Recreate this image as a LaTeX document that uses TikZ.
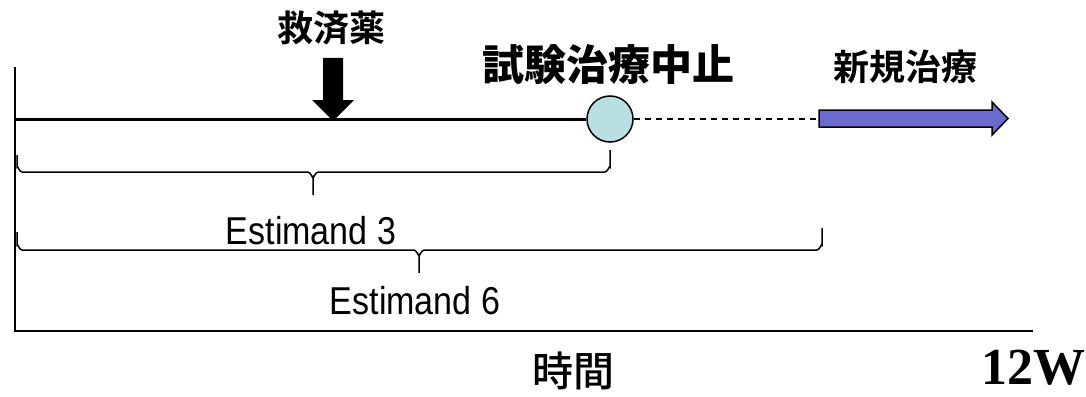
\documentclass[tikz,border=0pt]{standalone}
\usepackage{fontspec}
\setmainfont{Liberation Sans}
\newfontfamily\cjk{Noto Sans CJK JP Medium}
\newfontfamily\cjkb{Noto Sans CJK JP Bold}
\newfontfamily\cjkblack{Noto Sans CJK JP Black}
\newfontfamily\serifb{Liberation Serif Bold}
\definecolor{circfill}{HTML}{B9DFE3}
\definecolor{arrblue}{HTML}{6B6BCF}
\begin{document}
\begin{tikzpicture}[x=1pt,y=-1pt,
  axis/.style={line width=2pt,black},
  bracel/.style={line width=1.5pt,black},
  jlabel/.style={inner sep=0pt,font=\cjkb\fontsize{36}{36}\selectfont},
  elabel/.style={inner sep=0pt,xscale=0.92,yscale=1.05,font=\fontsize{37}{37}\selectfont}]
\useasboundingbox (0,0) rectangle (1086,396);
% axes
\coordinate (top) at (15,67);
\coordinate (org) at (15,331);
\coordinate (xend) at (1033,331);
\draw[axis] (top) -- (org) -- (xend);
% circle and timeline
\node[circle,draw,line width=1.5pt,fill=circfill,minimum size=46pt,inner sep=0pt] (stop) at (610,119) {};
\coordinate (tl) at (15,119);
\draw[line width=3pt] (tl) -- (stop.west);
% new treatment arrow
\coordinate (newtx) at (819,119);
\draw[line width=1.5pt,dash pattern=on 6pt off 5pt] (stop.east) -- (newtx);
\filldraw[fill=arrblue,draw=black,line width=1.5pt]
  (819,110) -- (992,110) -- (992,102) -- (1008,118.5) -- (992,135) -- (992,127) -- (819,127) -- cycle;
% rescue arrow
\fill[black] (323,58) -- (343,58) -- (343,100) -- (354,100) -- (333,121) -- (312,100) -- (323,100) -- cycle;
% brace 1
\draw[bracel] (17,155) -- (17,167) to[out=90,in=180] (22,172) -- (308,172) to[out=0,in=270] (313,177) -- (313,195);
\draw[bracel] (313,177) to[out=270,in=180] (318,172) -- (605,172) to[out=0,in=90] (610,167) -- (610,150);
% brace 2
\draw[bracel] (17,232) -- (17,245) to[out=90,in=180] (22,250) -- (414,250) to[out=0,in=270] (419,255) -- (419,273);
\draw[bracel] (419,255) to[out=270,in=180] (424,250) -- (817,250) to[out=0,in=90] (822,245) -- (822,228);
% labels
\node[jlabel] (rescue) at (331,28) {救済薬};
\node[jlabel,font=\cjkblack\fontsize{42}{42}\selectfont] (stoplbl) at (608,65) {試験治療中止};
\node[jlabel,font=\cjkb\fontsize{36}{36}\selectfont] (newlbl) at (905,67) {新規治療};
\node[elabel] (e3) at (311,231) {Estimand 3};
\node[elabel] (e6) at (415,301) {Estimand 6};
\node[inner sep=0pt,font=\cjk\fontsize{41}{41}\selectfont] (time) at (573,371) {時間};
\node[inner sep=0pt,font=\serifb\fontsize{52}{52}\selectfont] (w12) at (1033,368) {12W};
\end{tikzpicture}
\end{document}
